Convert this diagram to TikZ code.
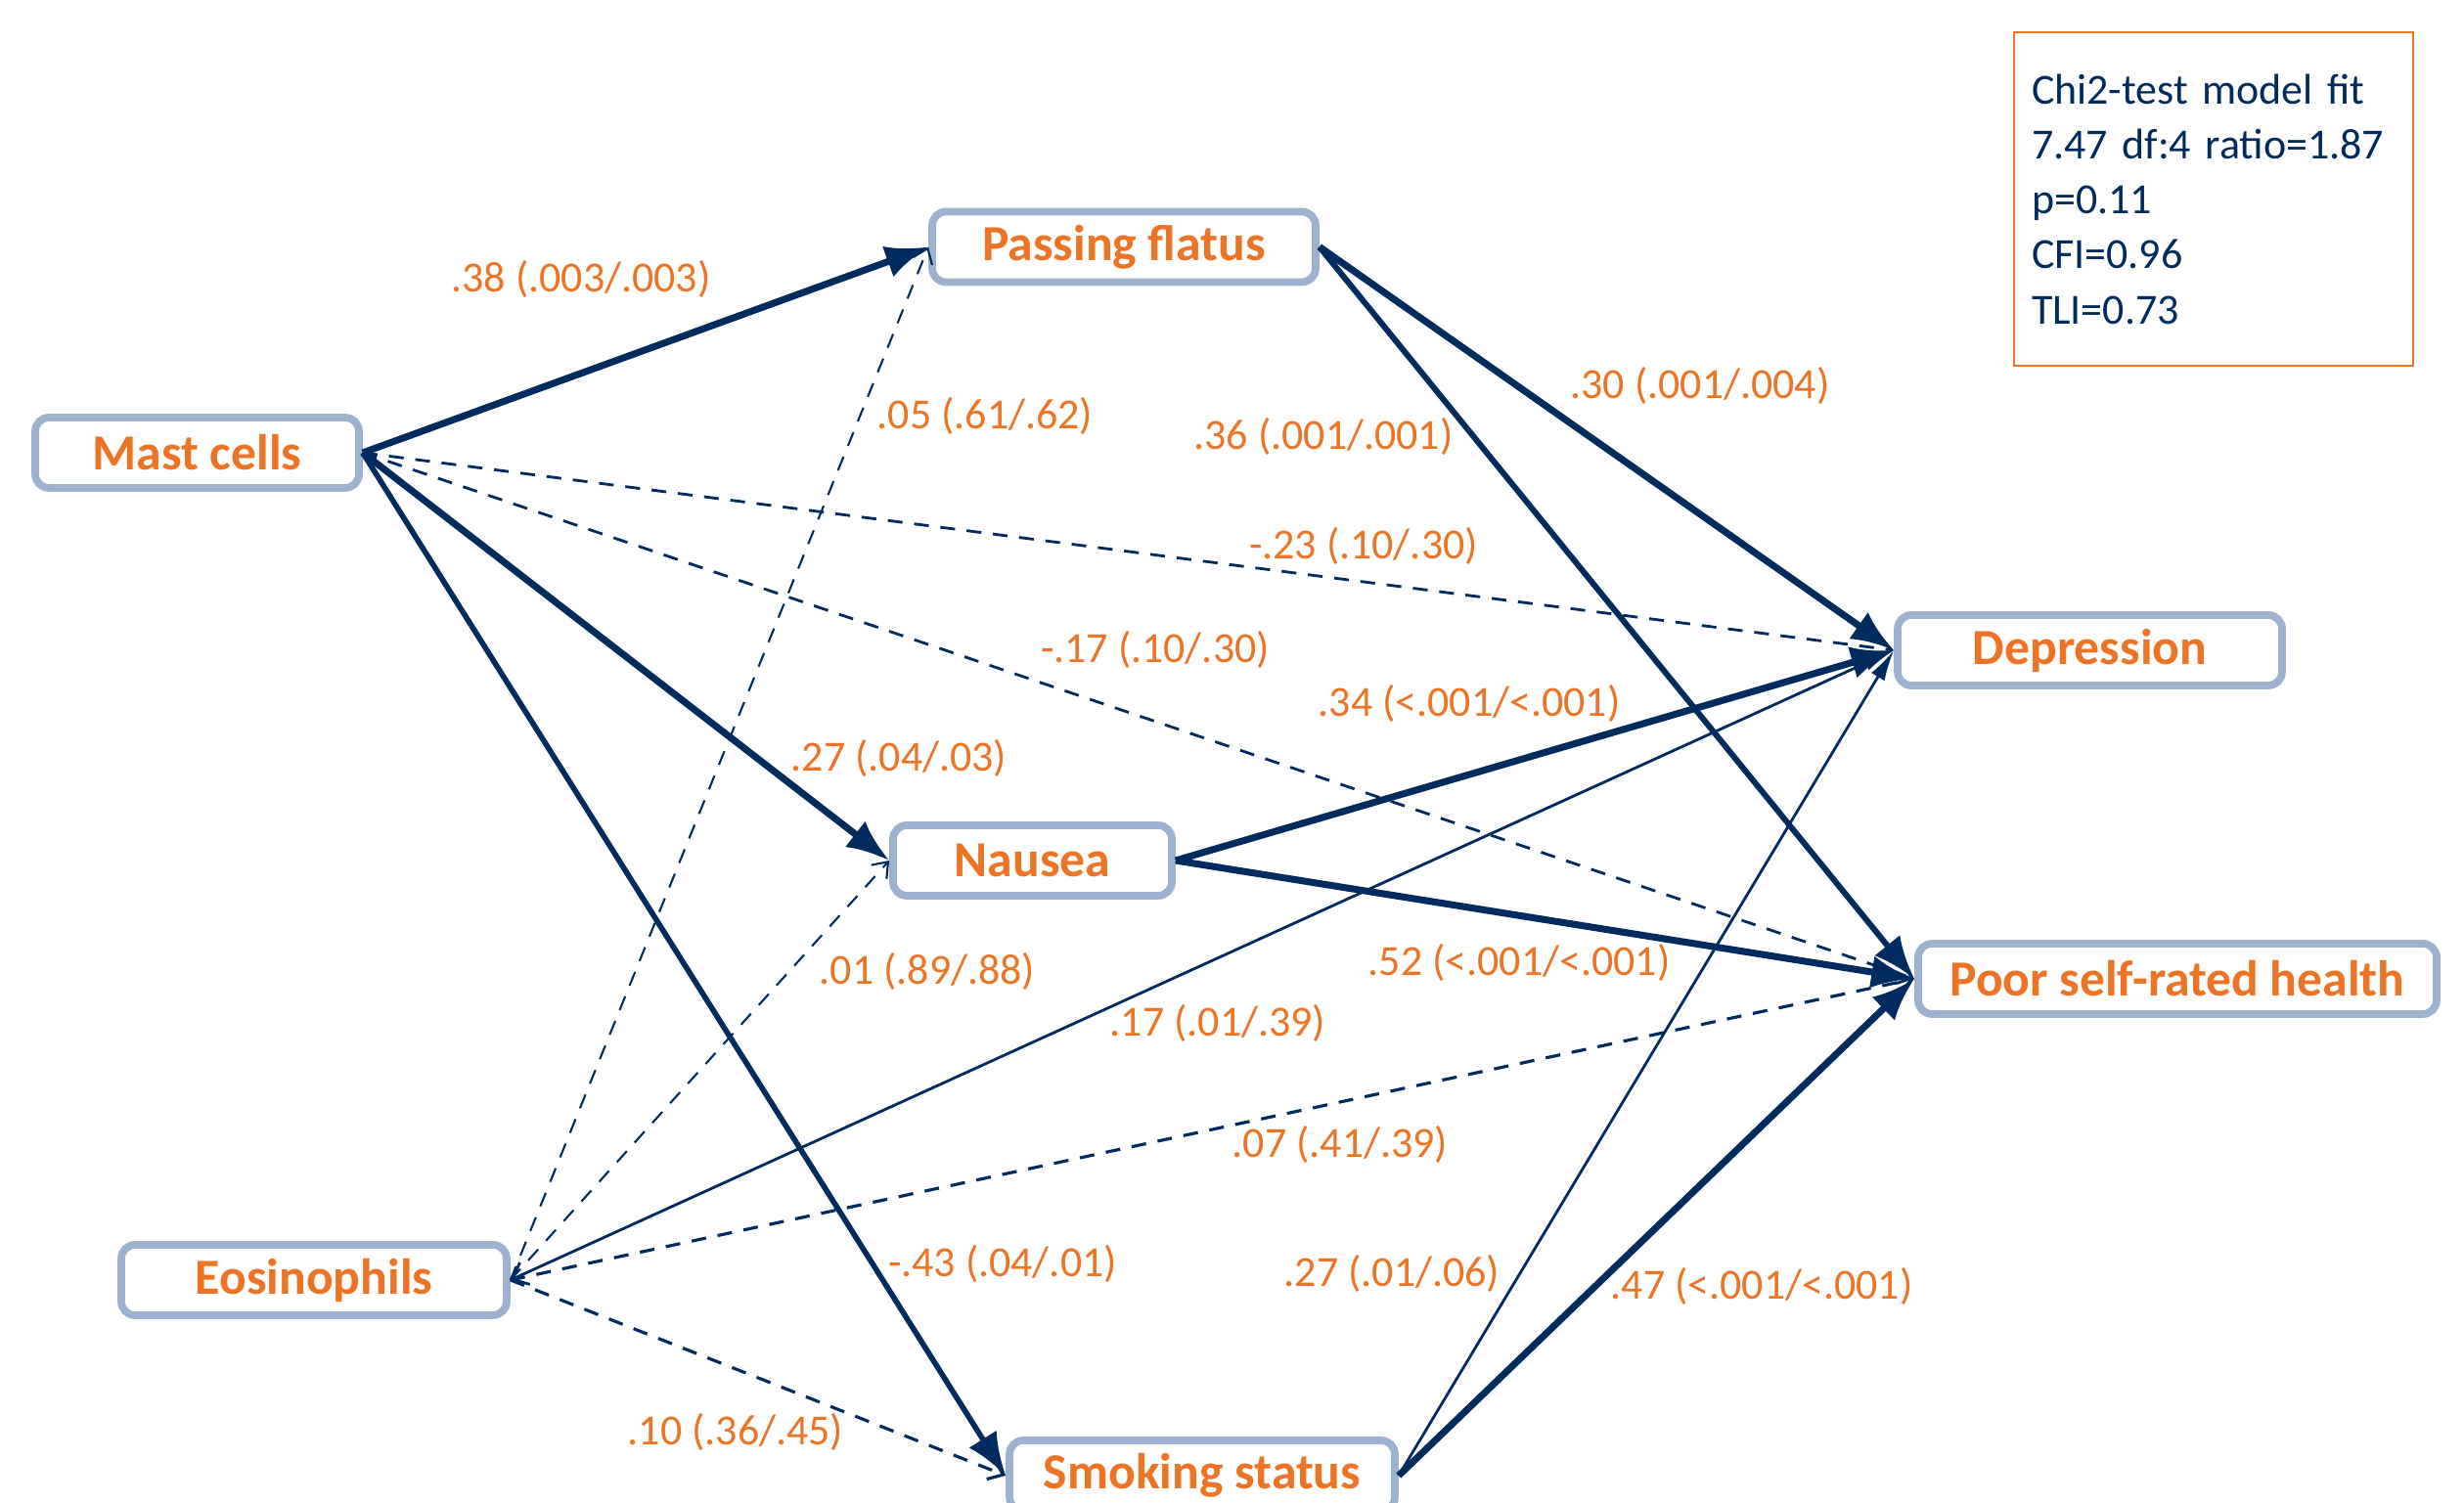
\documentclass[tikz,border=0pt]{standalone}
\usepackage{fontspec}
\setmainfont{Carlito}
\usepackage{tikz}
\tikzset{>=latex}
\usetikzlibrary{arrows.meta}
\definecolor{navy}{RGB}{0,43,94}
\definecolor{orng}{RGB}{236,116,36}
\definecolor{boxblue}{RGB}{157,178,208}

\begin{document}
\begin{tikzpicture}
      \tikzstyle{var}=[draw=boxblue, line width=2.2pt, rounded corners=4pt, fill=white, text=orng, inner sep=0pt, minimum height=0.72cm, font=\fontsize{14.7}{17}\selectfont\bfseries];
      \tikzstyle{coef}=[text=orng, inner sep=1pt, font=\fontsize{12.5}{15}\selectfont];
      \tikzstyle{sig}=[draw=navy, line width=2pt, -{Latex[length=12.5pt,width=9.5pt]}];
      \tikzstyle{weak}=[draw=navy, line width=0.8pt, -{Latex[length=9pt,width=4.5pt]}];
      \tikzstyle{ns}=[draw=navy, line width=0.8pt, dash pattern=on 4.3pt off 3.4pt, -{Straight Barb[length=4pt,width=6pt]}];
      \useasboundingbox (0,0) rectangle (25.19,15.37);

      % variables
      \node[var, minimum width=3.31cm] (mast) at (2.015,10.74) {Mast cells};
      \node[var, minimum width=3.92cm] (flat) at (11.49,12.845) {Passing flatus};
      \node[var, minimum width=2.85cm] (naus) at (10.555,6.57) {Nausea};
      \node[var, minimum width=3.93cm] (dep) at (21.365,8.72) {Depression};
      \node[var, minimum width=5.30cm] (poor) at (22.26,5.36) {Poor self-rated health};
      \node[var, minimum width=3.94cm] (eos) at (3.21,2.28) {Eosinophils};
      \node[var, minimum width=3.94cm] (smok) at (12.29,0.28) {Smoking status};

      % model fit
      \node[draw=orng, line width=0.6pt, text=navy, anchor=north west, align=left, text width=3.72cm, inner xsep=0.18cm, minimum height=3.41cm, font=\fontsize{12.5}{16}\selectfont] (fit) at (20.58,15.05)
        {Chi2-test model fit\\7.47 df:4 ratio=1.87\\p=0.11\\CFI=0.96\\TLI=0.73};

      % paths
      \draw[sig] (mast.east) -- (flat.west);
      \draw[sig] (mast.east) -- (naus.west);
      \draw[sig, line width=1.6pt] (mast.east) -- (smok.west);
      \draw[ns] (mast.east) -- (dep.west);
      \draw[ns] (mast.east) -- (poor.west);
      \draw[sig] (flat.east) -- (dep.west);
      \draw[sig, line width=1.7pt] (flat.east) -- (poor.west);
      \draw[sig] (naus.east) -- (dep.west);
      \draw[sig] (naus.east) -- (poor.west);
      \draw[ns, line width=0.6pt] (eos.east) -- (flat.west);
      \draw[ns, line width=0.6pt] (eos.east) -- (naus.west);
      \draw[weak, {Straight Barb[length=4pt,width=7pt]}-{Latex[length=9pt,width=4.5pt]}] (eos.east) -- (dep.west);
      \draw[ns, line width=0.9pt] (eos.east) -- (poor.west);
      \draw[ns, line width=0.9pt] (eos.east) -- (smok.west);
      \draw[weak] (smok.east) -- (dep.west);
      \draw[sig] (smok.east) -- (poor.west);

      % coefficients
      \node[coef] (c38) at (5.94,12.51) {.38 (.003/.003)};
      \node[coef] (c05) at (10.07,11.11) {.05 (.61/.62)};
      \node[coef] (c36) at (13.53,10.90) {.36 (.001/.001)};
      \node[coef] (c30) at (17.38,11.42) {.30 (.001/.004)};
      \node[coef] (c23) at (13.94,9.78) {-.23 (.10/.30)};
      \node[coef] (c17m) at (11.81,8.72) {-.17 (.10/.30)};
      \node[coef] (c34) at (15.02,8.17) {.34 (<.001/<.001)};
      \node[coef] (c27n) at (9.19,7.61) {.27 (.04/.03)};
      \node[coef] (c01) at (9.48,5.43) {.01 (.89/.88)};
      \node[coef] (c52) at (15.53,5.52) {.52 (<.001/<.001)};
      \node[coef] (c17e) at (12.45,4.90) {.17 (.01/.39)};
      \node[coef] (c07) at (13.70,3.66) {.07 (.41/.39)};
      \node[coef] (c43) at (10.25,2.44) {-.43 (.04/.01)};
      \node[coef] (c27s) at (14.23,2.34) {.27 (.01/.06)};
      \node[coef] (c47) at (18.01,2.21) {.47 (<.001/<.001)};
      \node[coef] (c10) at (7.52,0.72) {.10 (.36/.45)};
    \end{tikzpicture}
\end{document}
